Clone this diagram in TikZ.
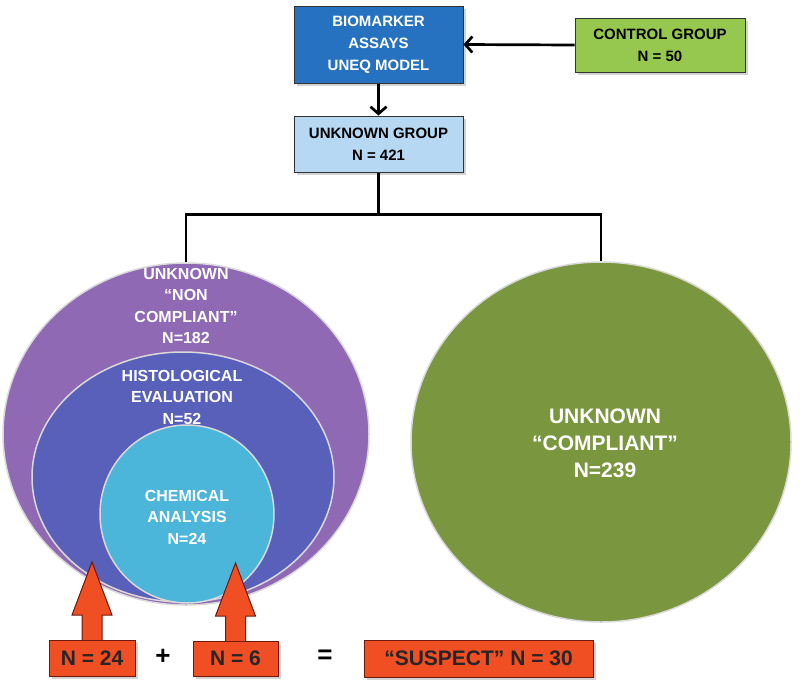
\documentclass[tikz,border=0pt]{standalone}
\usepackage{fontspec}
\setmainfont{Liberation Sans}
\usetikzlibrary{shapes.geometric,arrows.meta,calc,shadows}
\definecolor{bioblue}{RGB}{38,114,192}
\definecolor{ctrlgreen}{RGB}{150,200,80}
\definecolor{unkblue}{RGB}{182,216,242}
\definecolor{ncpurple}{RGB}{143,105,180}
\definecolor{histblue}{RGB}{88,96,186}
\definecolor{chemcyan}{RGB}{75,182,218}
\definecolor{compgreen}{RGB}{122,150,62}
\definecolor{redfill}{RGB}{240,78,35}
\definecolor{redline}{RGB}{110,25,10}

\begin{document}
\begin{tikzpicture}[
			x=1pt,
			y=-1pt,
			topbox/.style={draw=black!80, line width=1pt, align=center, inner sep=0pt, font=\fontsize{15}{22}\selectfont\bfseries, drop shadow={opacity=0.35}},
			blob/.style={ellipse, draw=white!85!black, line width=1.5pt, inner sep=0pt},
			blobtext/.style={align=center, text=white, font=\fontsize{16}{21.5}\selectfont\bfseries},
			redbox/.style={draw=redline, line width=1pt, fill=redfill, inner sep=0pt, text=black!85, font=\fontsize{21}{24}\selectfont\bfseries, drop shadow={opacity=0.35}},
			link/.style={line width=2.7pt},
			linkarrow/.style={link, -{Straight Barb[length=7pt, width=16pt]}},
			bigarrow/.style={draw=redline, line width=1pt, fill=redfill, line join=miter},
			sign/.style={font=\fontsize{26}{26}\selectfont\bfseries}
		]
		\useasboundingbox (0,0) rectangle (800,681);

		\node[topbox, fill=bioblue, text=white, minimum width=169pt, minimum height=77pt] (bio) at (378.5,44.5) {BIOMARKER\\ASSAYS\\UNEQ MODEL};
		\node[topbox, fill=ctrlgreen, minimum width=170pt, minimum height=54pt] (ctrl) at (660,45) {CONTROL GROUP\\N = 50};
		\node[topbox, fill=unkblue, minimum width=169pt, minimum height=56pt] (unk) at (378.5,144) {UNKNOWN GROUP\\N = 421};

		\draw[linkarrow] (ctrl.west) -- (bio.east);
		\draw[linkarrow] (bio.south) -- (unk.north);

		\node[blob, fill=ncpurple, minimum width=366pt, minimum height=342pt] (noncomp) at (186,434) {};
		\node[blob, fill=histblue, minimum width=302pt, minimum height=250pt] (histo) at (183,477) {};
		\node[blob, fill=chemcyan, minimum width=174pt, minimum height=178pt] (chem) at (187,514) {};
		\node[blob, fill=compgreen, minimum width=380pt, minimum height=360pt] (comp) at (601,442) {};

		\node[blobtext] (noncomptext) at (186,306) {UNKNOWN\\“NON\\COMPLIANT”\\N=182};
		\node[blobtext] (histotext) at (182,397) {HISTOLOGICAL\\EVALUATION\\N=52};
		\node[blobtext] (chemtext) at (187,517) {CHEMICAL\\ANALYSIS\\N=24};
		\node[blobtext, font=\fontsize{21}{27}\selectfont\bfseries] (comptext) at (605,443) {UNKNOWN\\“COMPLIANT”\\N=239};

		\draw[link] (unk.south) -- ++(0,42) coordinate (split);
		\draw[link] (noncomp.north) |- (split) -| (comp.north);

		\coordinate (n24top) at (92,640);
		\coordinate (n6top) at (235.5,641);
		\foreach \b in {n24top,n6top}
			\draw[bigarrow] ($(\b)+(-10,0)$) -- ++(0,-25) -- ++(-10,0) -- ++(20,-53) -- ++(20,53) -- ++(-10,0) -- ++(0,25);

		\node[redbox, minimum width=86pt, minimum height=36pt] (n24) at (92,658) {N = 24};
		\node[redbox, minimum width=85pt, minimum height=35pt] (n6) at (235.5,658.5) {N = 6};
		\node[redbox, minimum width=229pt, minimum height=37pt] (susp) at (478.5,658.5) {“SUSPECT” N = 30};
		\node[sign] (plus) at (163,657) {+};
		\node[sign] (equals) at (325,657) {=};
	\end{tikzpicture}
\end{document}
